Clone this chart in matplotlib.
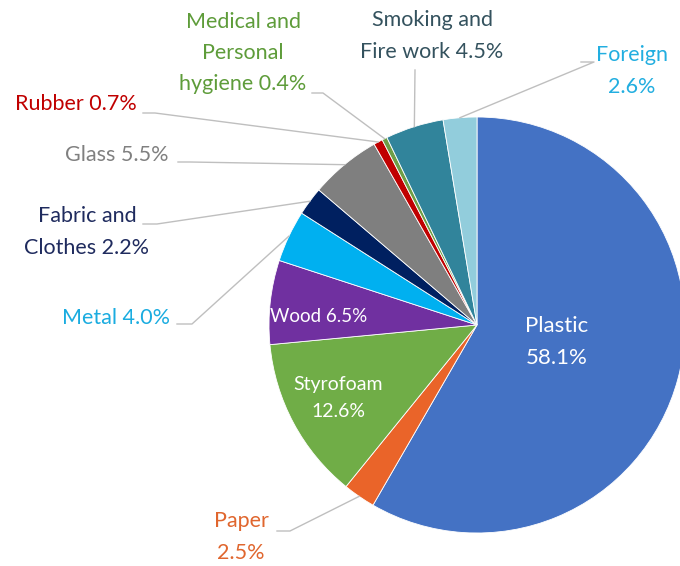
import numpy as np
import matplotlib
matplotlib.use('Agg')
import matplotlib.pyplot as plt

plt.rcParams['font.family'] = ['Lato', 'DejaVu Sans']

# ── data ──────────────────────────────────────────
categories = ['Plastic', 'Paper', 'Styrofoam', 'Wood', 'Metal',
              'Fabric and\nClothes', 'Glass', 'Rubber',
              'Medical and\nPersonal\nhygiene', 'Smoking and\nFire work', 'Foreign']
shares = [58.1, 2.5, 12.6, 6.5, 4.0, 2.2, 5.5, 0.7, 0.4, 4.5, 2.6]
labels = ['Plastic\n58.1%', 'Paper\n2.5%', 'Styrofoam\n12.6%', 'Wood 6.5%',
          'Metal 4.0%', 'Fabric and\nClothes 2.2%', 'Glass 5.5%', 'Rubber 0.7%',
          'Medical and\nPersonal\nhygiene 0.4%', 'Smoking and\nFire work 4.5%',
          'Foreign\n2.6%']

wedge_colors = ['#4472C4', '#EA6429', '#70AD47', '#7030A0', '#00B0F0', '#002060',
                '#7F7F7F', '#C00000', '#6E9E45', '#31849B', '#92CDDC']
text_colors = ['white', '#E0662E', 'white', 'white', '#1AACE0', '#1F2B5E',
               '#808080', '#C00000', '#5E9C3A', '#34525E', '#22AEE0']

W, H = 680, 566
CX, CY, R = 477, H - 325, 208

# label placement in pixel coords (x, y from top, font size), plus leader anchor points
inside = {0: (557, 342, 16), 2: (338, 398, 14), 3: (319, 316, 13.5)}
outside = {
    1: ((241, 537), [(277, 531), (290, 531)]),
    4: ((116, 318), [(177, 324), (192, 324)]),
    5: ((87, 232), [(143, 224), (157, 224)]),
    6: ((117, 155), [(178, 162), (190, 162)]),
    7: ((76, 104), [(143, 113), (155, 113)]),
    8: ((243, 53), [(312, 93), (323, 93)]),
    9: ((432, 36), [(415, 70)]),
    10: ((632, 71), [(581, 62), (594, 62)]),
}

fig = plt.figure(figsize=(W / 100, H / 100), dpi=100)
ax = fig.add_axes([0, 0, 1, 1])

wedges, _ = ax.pie(shares, colors=wedge_colors, startangle=90, counterclock=False,
                   radius=R, center=(CX, CY),
                   wedgeprops=dict(edgecolor='white', linewidth=0.6))

fs = 15.5
for i, (px, py, f) in inside.items():
    ax.text(px, H - py, labels[i], color='white', fontsize=f, ha='center', va='center',
            linespacing=1.7)

for i, ((px, py), anchors) in outside.items():
    ax.text(px, H - py, labels[i], color=text_colors[i], fontsize=fs, ha='center',
            va='center', linespacing=1.7)
    w = wedges[i]
    mid = np.radians((w.theta1 + w.theta2) / 2)
    ex, ey = CX + R * np.cos(mid), CY + R * np.sin(mid)
    xs = [a[0] for a in anchors] + [ex]
    ys = [H - a[1] for a in anchors] + [ey]
    ax.plot(xs, ys, color='#BFBFBF', linewidth=1)

ax.set_xlim(0, W)
ax.set_ylim(0, H)
ax.set_aspect('equal')
ax.axis('off')

plt.savefig('out.png', dpi=100)
